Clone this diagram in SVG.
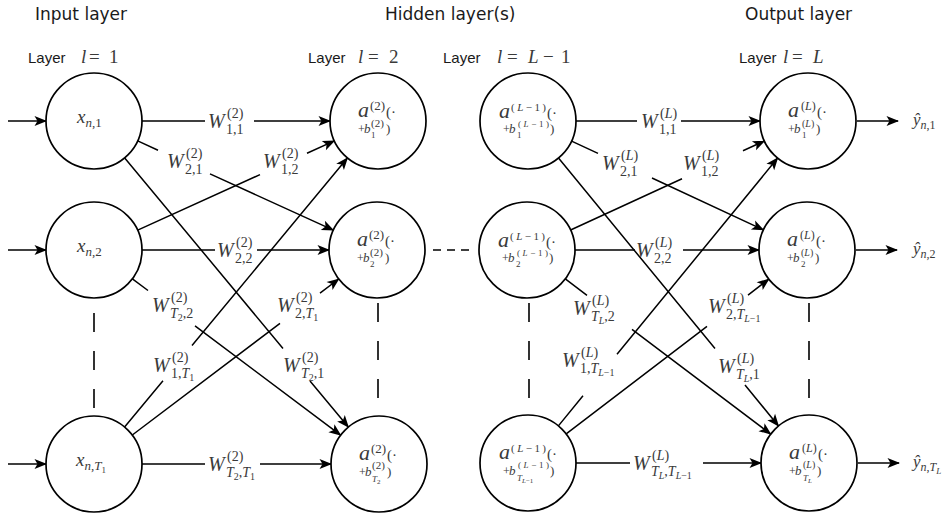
<svg xmlns="http://www.w3.org/2000/svg" width="952" height="513" viewBox="0 0 952 513">
<style>
.ln{fill:none;stroke:#000;stroke-width:1.5}
.ar{marker-end:url(#ah)}
.nd{fill:#fff;stroke:#000;stroke-width:1.7}
.dv{stroke:#000;stroke-width:1.6;stroke-dasharray:19 19}
.dh{stroke:#000;stroke-width:1.6;stroke-dasharray:8 6}
.hd{font-family:"DejaVu Sans",Verdana,sans-serif;font-size:17px;fill:#1a1a1a}
.ly{font-family:"Liberation Sans",Arial,sans-serif;font-size:15px;fill:#1a1a1a}
.m{font-family:"Liberation Serif","Times New Roman",serif;fill:#3a3a3a}
.i{font-style:italic}
.w{font-size:20px;font-style:italic}
.s{font-size:14px}
.ss{font-size:10px}
</style>
<defs>
<marker id="ah" viewBox="-13 -6 15 12" refX="0" refY="0" markerWidth="15" markerHeight="12" markerUnits="userSpaceOnUse" orient="auto">
<path d="M1,0 L-11.5,-5 L-8.5,0 L-11.5,5 Z" fill="#000"/>
</marker>
</defs>
<rect width="952" height="513" fill="#fff"/>

<!-- layer headings -->
<g id="headings">
<text class="hd" x="35" y="20">Input layer</text>
<text class="hd" x="385" y="20">Hidden layer(s)</text>
<text class="hd" x="745" y="20">Output layer</text>
<text class="ly" x="28" y="63">Layer</text><text class="m i" font-size="19" x="81" y="63">l</text><text class="m" font-size="19" x="89" y="63">=</text><text class="m" font-size="19" x="109" y="63">1</text>
<text class="ly" x="308" y="63">Layer</text><text class="m i" font-size="19" x="358" y="63">l</text><text class="m" font-size="19" x="368" y="63">=</text><text class="m" font-size="19" x="389" y="63">2</text>
<text class="ly" x="443" y="63">Layer</text><text class="m i" font-size="19" x="497" y="63">l</text><text class="m" font-size="19" x="507" y="63">=</text><text class="m i" font-size="19" x="528" y="63">L</text><text class="m" font-size="19" x="543" y="63">−</text><text class="m" font-size="19" x="561" y="63">1</text>
<text class="ly" x="739" y="63">Layer</text><text class="m i" font-size="19" x="783" y="63">l</text><text class="m" font-size="19" x="792" y="63">=</text><text class="m i" font-size="19" x="813" y="63">L</text>
</g>

<!-- connectors -->
<g id="connectors">
<!-- inputs and outputs -->
<path class="ln ar" d="M8,121 H46"/>
<path class="ln ar" d="M8,250 H46"/>
<path class="ln ar" d="M8,464 H46"/>
<path class="ln ar" d="M857,121 H898"/>
<path class="ln ar" d="M856,250 H897"/>
<path class="ln ar" d="M858,463 H899"/>
<!-- layer 1 to layer 2 -->
<path class="ln ar" d="M142,121 H205 M254,121 H330"/>
<path class="ln ar" d="M137.7,140.9 L158,150.2 M210,173.9 L333.3,230.1"/>
<path class="ln ar" d="M124.7,157.9 L283,348.5 M310,381 L348.3,427.1"/>
<path class="ln ar" d="M137.7,230.1 L260,174.6 M307,153.3 L334.3,140.9"/>
<path class="ln ar" d="M142,250 H215 M257,250 H329"/>
<path class="ln ar" d="M132.4,278.8 L148,290.5 M195,325.8 L340.6,435.2"/>
<path class="ln ar" d="M124.6,427 L163,380.7 M192,345.6 L347.4,158"/>
<path class="ln ar" d="M132.3,435 L280,323.3 M320,293.1 L338.7,279"/>
<path class="ln ar" d="M142,464 H205 M260,464 H331"/>
<!-- layer L-1 to layer L -->
<path class="ln ar" d="M576,121 H637 M681,121 H760"/>
<path class="ln ar" d="M571.6,141.1 L598,153.4 M652,178 L763.4,229.9"/>
<path class="ln ar" d="M558.5,158.1 L715,348.6 M745,385.1 L778.5,425.9"/>
<path class="ln ar" d="M570.6,230 L682,178.8 M743,150.8 L764.4,141"/>
<path class="ln ar" d="M575,250 H635 M683,250 H759"/>
<path class="ln ar" d="M565.3,278.9 L587,295.3 M632,329.3 L770.7,434.1"/>
<path class="ln ar" d="M558.4,425.9 L583,395.8 M617,354.3 L777.6,158.1"/>
<path class="ln ar" d="M566.2,433.9 L707,326.4 M748,295.1 L768.8,279.1"/>
<path class="ln ar" d="M576,463 H630 M703,463 H761"/>
<!-- elided nodes and layers -->
<line class="dv" x1="94" y1="313" x2="94" y2="410"/>
<line class="dv" x1="378" y1="303" x2="378" y2="400"/>
<line class="dv" x1="529" y1="303" x2="529" y2="400"/>
<line class="dv" x1="809" y1="303" x2="809" y2="400"/>
<line class="dh" x1="433" y1="250" x2="472" y2="250"/>
</g>

<!-- weight labels -->
<g id="weights">
<g transform="translate(208,128)"><text class="m w">W</text><text class="m s" x="19" y="-10">(2)</text><text class="m s" x="18" y="6">1,1</text></g>
<g transform="translate(167,168)"><text class="m w">W</text><text class="m s" x="19" y="-10">(2)</text><text class="m s" x="18" y="6">2,1</text></g>
<g transform="translate(283,372)"><text class="m w">W</text><text class="m s" x="19" y="-10">(2)</text><text class="m s" x="18" y="6"><tspan class="i">T</tspan><tspan class="ss" dy="3">2</tspan><tspan dy="-3">,1</tspan></text></g>
<g transform="translate(263,168)"><text class="m w">W</text><text class="m s" x="19" y="-10">(2)</text><text class="m s" x="18" y="6">1,2</text></g>
<g transform="translate(217,257)"><text class="m w">W</text><text class="m s" x="19" y="-10">(2)</text><text class="m s" x="18" y="6">2,2</text></g>
<g transform="translate(152,312)"><text class="m w">W</text><text class="m s" x="19" y="-10">(2)</text><text class="m s" x="18" y="6"><tspan class="i">T</tspan><tspan class="ss" dy="3">2</tspan><tspan dy="-3">,2</tspan></text></g>
<g transform="translate(153,372)"><text class="m w">W</text><text class="m s" x="19" y="-10">(2)</text><text class="m s" x="18" y="6">1,<tspan class="i">T</tspan><tspan class="ss" dy="3">1</tspan></text></g>
<g transform="translate(277,312)"><text class="m w">W</text><text class="m s" x="19" y="-10">(2)</text><text class="m s" x="18" y="6">2,<tspan class="i">T</tspan><tspan class="ss" dy="3">1</tspan></text></g>
<g transform="translate(208,471)"><text class="m w">W</text><text class="m s" x="19" y="-10">(2)</text><text class="m s" x="18" y="6"><tspan class="i">T</tspan><tspan class="ss" dy="3">2</tspan><tspan dy="-3">,</tspan><tspan class="i">T</tspan><tspan class="ss" dy="3">1</tspan></text></g>

<g transform="translate(641,128)"><text class="m w">W</text><text class="m s" x="19" y="-10">(<tspan class="i">L</tspan>)</text><text class="m s" x="18" y="6">1,1</text></g>
<g transform="translate(602,170)"><text class="m w">W</text><text class="m s" x="19" y="-10">(<tspan class="i">L</tspan>)</text><text class="m s" x="18" y="6">2,1</text></g>
<g transform="translate(718,373)"><text class="m w">W</text><text class="m s" x="19" y="-10">(<tspan class="i">L</tspan>)</text><text class="m s" x="18" y="6"><tspan class="i">T</tspan><tspan class="ss i" dy="3">L</tspan><tspan dy="-3">,1</tspan></text></g>
<g transform="translate(683,170)"><text class="m w">W</text><text class="m s" x="19" y="-10">(<tspan class="i">L</tspan>)</text><text class="m s" x="18" y="6">1,2</text></g>
<g transform="translate(636,257)"><text class="m w">W</text><text class="m s" x="19" y="-10">(<tspan class="i">L</tspan>)</text><text class="m s" x="18" y="6">2,2</text></g>
<g transform="translate(573,315)"><text class="m w">W</text><text class="m s" x="19" y="-10">(<tspan class="i">L</tspan>)</text><text class="m s" x="18" y="6"><tspan class="i">T</tspan><tspan class="ss i" dy="3">L</tspan><tspan dy="-3">,2</tspan></text></g>
<g transform="translate(562,367)"><text class="m w">W</text><text class="m s" x="19" y="-10">(<tspan class="i">L</tspan>)</text><text class="m s" x="18" y="6">1,<tspan class="i">T</tspan><tspan class="ss" dy="3"><tspan class="i">L</tspan>−1</tspan></text></g>
<g transform="translate(708,313)"><text class="m w">W</text><text class="m s" x="19" y="-10">(<tspan class="i">L</tspan>)</text><text class="m s" x="18" y="6">2,<tspan class="i">T</tspan><tspan class="ss" dy="3"><tspan class="i">L</tspan>−1</tspan></text></g>
<g transform="translate(633,470)"><text class="m w">W</text><text class="m s" x="19" y="-10">(<tspan class="i">L</tspan>)</text><text class="m s" x="18" y="6"><tspan class="i">T</tspan><tspan class="ss i" dy="3">L</tspan><tspan dy="-3">,</tspan><tspan class="i">T</tspan><tspan class="ss" dy="3"><tspan class="i">L</tspan>−1</tspan></text></g>
</g>

<!-- input layer -->
<g id="x1"><circle class="nd" cx="94" cy="121" r="48"/><text class="m" x="77" y="123"><tspan class="i" font-size="19">x</tspan><tspan font-size="13" dy="4"><tspan class="i">n</tspan>,1</tspan></text></g>
<g id="x2"><circle class="nd" cx="94" cy="250" r="48"/><text class="m" x="77" y="252"><tspan class="i" font-size="19">x</tspan><tspan font-size="13" dy="4"><tspan class="i">n</tspan>,2</tspan></text></g>
<g id="x3"><circle class="nd" cx="94" cy="464" r="48"/><text class="m" x="76" y="466"><tspan class="i" font-size="19">x</tspan><tspan font-size="13" dy="4"><tspan class="i">n</tspan>,<tspan class="i">T</tspan><tspan font-size="9" dy="3">1</tspan></tspan></text></g>

<!-- layer 2 -->
<g id="h2-1" transform="translate(378,121)"><circle class="nd" r="48"/>
<text class="m i" x="-20" y="-4" font-size="22">a</text><text class="m" x="-8" y="-11" font-size="13">(2)</text><text class="m" x="8" y="-4" font-size="15">(·</text>
<text class="m" x="-20" y="12" font-size="12">+</text><text class="m i" x="-14" y="12" font-size="13">b</text><text class="m" x="-7" y="6" font-size="11">(2)</text><text class="m" x="-7" y="17" font-size="9">1</text><text class="m" x="8" y="12" font-size="13">)</text></g>
<g id="h2-2" transform="translate(377,250)"><circle class="nd" r="48"/>
<text class="m i" x="-20" y="-4" font-size="22">a</text><text class="m" x="-8" y="-11" font-size="13">(2)</text><text class="m" x="8" y="-4" font-size="15">(·</text>
<text class="m" x="-20" y="12" font-size="12">+</text><text class="m i" x="-14" y="12" font-size="13">b</text><text class="m" x="-7" y="6" font-size="11">(2)</text><text class="m" x="-7" y="17" font-size="9">2</text><text class="m" x="8" y="12" font-size="13">)</text></g>
<g id="h2-3" transform="translate(379,464)"><circle class="nd" r="48"/>
<text class="m i" x="-20" y="-4" font-size="22">a</text><text class="m" x="-8" y="-11" font-size="13">(2)</text><text class="m" x="8" y="-4" font-size="15">(·</text>
<text class="m" x="-20" y="12" font-size="12">+</text><text class="m i" x="-14" y="12" font-size="13">b</text><text class="m" x="-7" y="5" font-size="11">(2)</text><text class="m" x="-7" y="18"><tspan class="i" font-size="9">T</tspan><tspan font-size="7" dy="2">2</tspan></text><text class="m" x="8" y="12" font-size="13">)</text></g>

<!-- layer L-1 -->
<g id="hL1-1" transform="translate(528,121)"><circle class="nd" r="48"/>
<text class="m i" x="-29" y="-3" font-size="22">a</text><text class="m" x="-17" y="-10" font-size="11" textLength="35" lengthAdjust="spacing">(<tspan class="i">L</tspan>−1)</text><text class="m" x="19" y="-3" font-size="15">(·</text>
<text class="m" x="-25" y="12" font-size="12">+</text><text class="m i" x="-19" y="12" font-size="13">b</text><text class="m" x="-10" y="6" font-size="9" textLength="31" lengthAdjust="spacing">(<tspan class="i">L</tspan>−1)</text><text class="m" x="-11" y="17" font-size="9">1</text><text class="m" x="22" y="12" font-size="13">)</text></g>
<g id="hL1-2" transform="translate(527,250)"><circle class="nd" r="48"/>
<text class="m i" x="-29" y="-3" font-size="22">a</text><text class="m" x="-17" y="-10" font-size="11" textLength="35" lengthAdjust="spacing">(<tspan class="i">L</tspan>−1)</text><text class="m" x="19" y="-3" font-size="15">(·</text>
<text class="m" x="-25" y="12" font-size="12">+</text><text class="m i" x="-19" y="12" font-size="13">b</text><text class="m" x="-10" y="6" font-size="9" textLength="31" lengthAdjust="spacing">(<tspan class="i">L</tspan>−1)</text><text class="m" x="-11" y="17" font-size="9">2</text><text class="m" x="22" y="12" font-size="13">)</text></g>
<g id="hL1-3" transform="translate(528,463)"><circle class="nd" r="48"/>
<text class="m i" x="-29" y="-4" font-size="22">a</text><text class="m" x="-17" y="-11" font-size="11" textLength="35" lengthAdjust="spacing">(<tspan class="i">L</tspan>−1)</text><text class="m" x="19" y="-4" font-size="15">(·</text>
<text class="m" x="-25" y="12" font-size="12">+</text><text class="m i" x="-19" y="12" font-size="13">b</text><text class="m" x="-10" y="5" font-size="9" textLength="31" lengthAdjust="spacing">(<tspan class="i">L</tspan>−1)</text><text class="m" x="-11" y="18"><tspan class="i" font-size="9">T</tspan><tspan font-size="7" dy="2"><tspan class="i">L</tspan>−1</tspan></text><text class="m" x="22" y="12" font-size="13">)</text></g>

<!-- output layer -->
<g id="o1" transform="translate(808,121)"><circle class="nd" r="48"/>
<text class="m i" x="-20" y="-4" font-size="22">a</text><text class="m" x="-7" y="-11" font-size="12">(<tspan class="i">L</tspan>)</text><text class="m" x="9" y="-4" font-size="15">(·</text>
<text class="m" x="-20" y="12" font-size="12">+</text><text class="m i" x="-14" y="12" font-size="13">b</text><text class="m" x="-6" y="6" font-size="10">(<tspan class="i">L</tspan>)</text><text class="m" x="-6" y="17" font-size="9">1</text><text class="m" x="8" y="12" font-size="13">)</text></g>
<g id="o2" transform="translate(807,250)"><circle class="nd" r="48"/>
<text class="m i" x="-20" y="-4" font-size="22">a</text><text class="m" x="-7" y="-11" font-size="12">(<tspan class="i">L</tspan>)</text><text class="m" x="9" y="-4" font-size="15">(·</text>
<text class="m" x="-20" y="12" font-size="12">+</text><text class="m i" x="-14" y="12" font-size="13">b</text><text class="m" x="-6" y="6" font-size="10">(<tspan class="i">L</tspan>)</text><text class="m" x="-6" y="17" font-size="9">2</text><text class="m" x="8" y="12" font-size="13">)</text></g>
<g id="o3" transform="translate(809,463)"><circle class="nd" r="48"/>
<text class="m i" x="-20" y="-4" font-size="22">a</text><text class="m" x="-7" y="-11" font-size="12">(<tspan class="i">L</tspan>)</text><text class="m" x="9" y="-4" font-size="15">(·</text>
<text class="m" x="-20" y="12" font-size="12">+</text><text class="m i" x="-14" y="12" font-size="13">b</text><text class="m" x="-6" y="5" font-size="10">(<tspan class="i">L</tspan>)</text><text class="m" x="-6" y="18"><tspan class="i" font-size="9">T</tspan><tspan class="i" font-size="7" dy="2">L</tspan></text><text class="m" x="8" y="12" font-size="13">)</text></g>

<!-- network outputs -->
<g id="outputs">
<text class="m" x="913" y="125"><tspan class="i" font-size="17">ŷ</tspan><tspan font-size="12" dy="4"><tspan class="i">n</tspan>,1</tspan></text>
<text class="m" x="913" y="254"><tspan class="i" font-size="17">ŷ</tspan><tspan font-size="12" dy="4"><tspan class="i">n</tspan>,2</tspan></text>
<text class="m" x="913" y="467"><tspan class="i" font-size="17">ŷ</tspan><tspan font-size="12" dy="4"><tspan class="i">n</tspan>,<tspan class="i">T</tspan><tspan class="i" font-size="9" dy="3">L</tspan></tspan></text>
</g>
</svg>
